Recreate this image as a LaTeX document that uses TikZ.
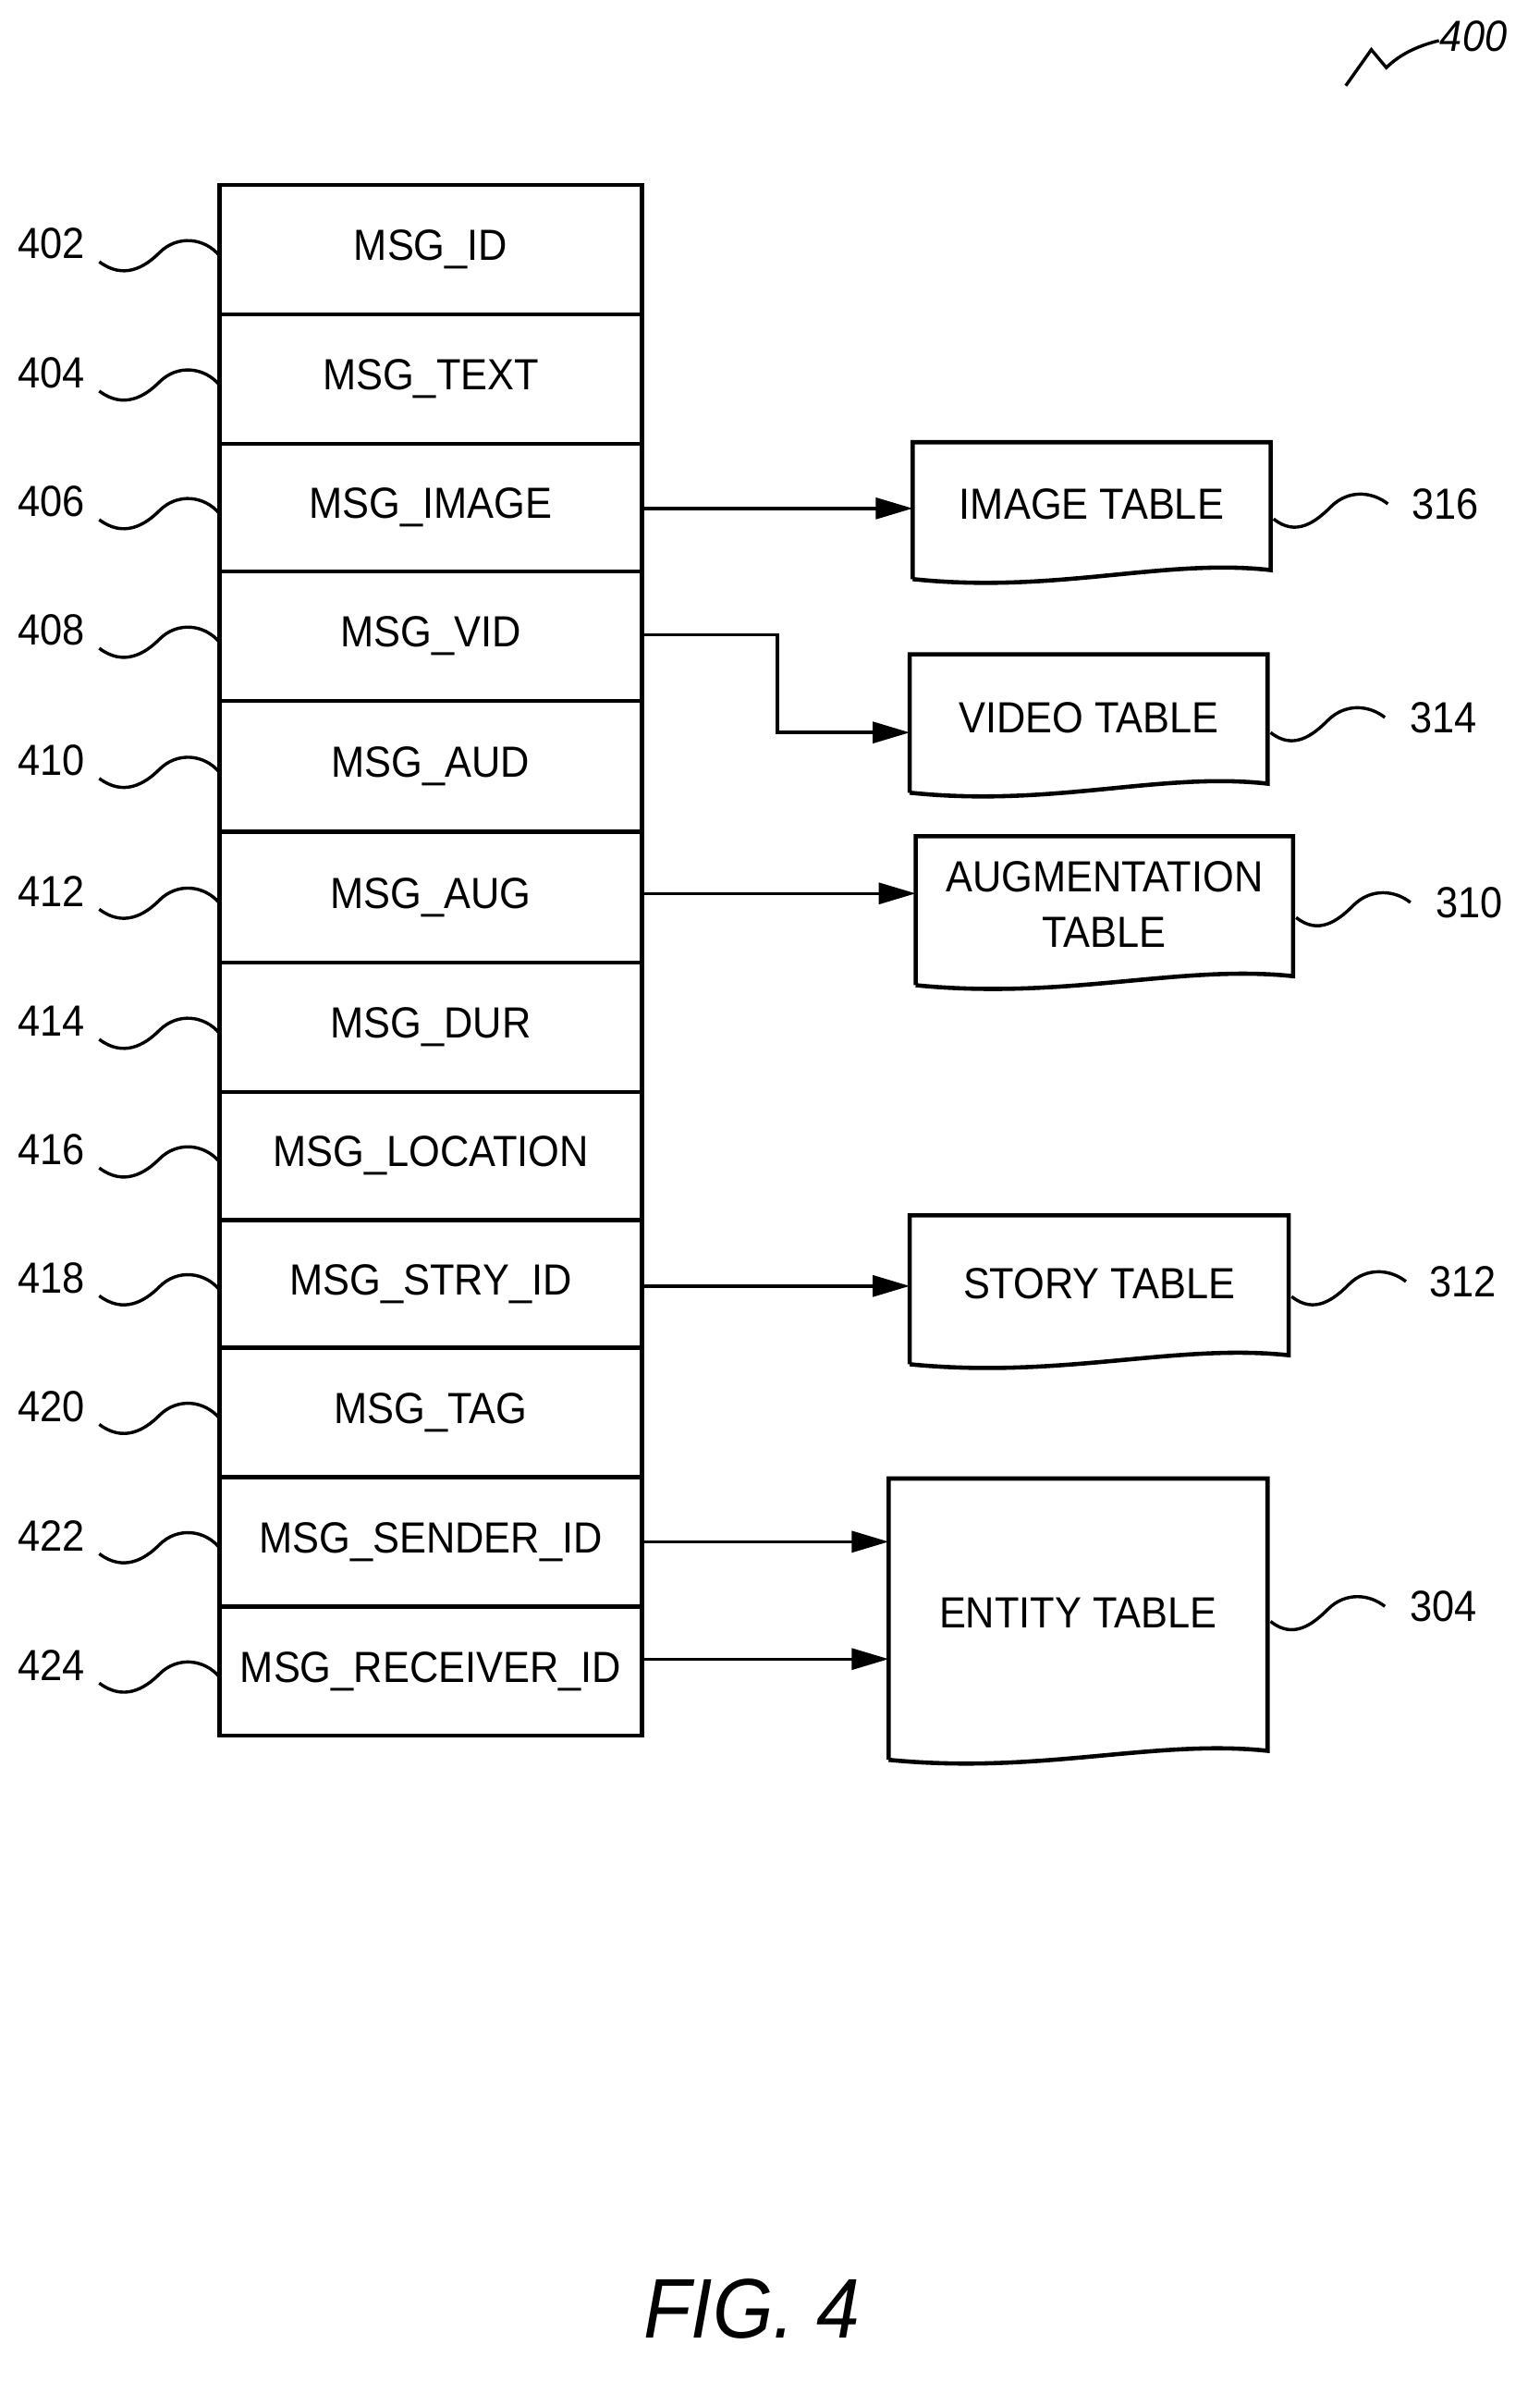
\documentclass[tikz,border=0pt]{standalone}
\usepackage{fontspec}
\setmainfont{Liberation Sans}[FakeStretch=0.92]
\usetikzlibrary{arrows.meta}
\begin{document}
\begin{tikzpicture}[x=0.02cm,y=-0.02cm,
  line width=1.6pt,
  txt/.style={font=\fontsize{16.5}{19}\selectfont,align=center,inner sep=0},
  lbl/.style={font=\fontsize{16.5}{19}\selectfont,inner sep=0},
  arr/.style={-{Triangle[length=14pt,width=8pt]},line width=1.2pt}]
\useasboundingbox (0,0) rectangle (1024,1583);
% row boxes
\def\rows{123/209/MSG\_ID/402/r1,209/295/MSG\_TEXT/404/r2,295/380/MSG\_IMAGE/406/r3,380/466/MSG\_VID/408/r4,466/553/MSG\_AUD/410/r5,553/640/MSG\_AUG/412/r6,640/726/MSG\_DUR/414/r7,726/811/MSG\_LOCATION/416/r8,811/896/MSG\_STRY\_ID/418/r9,896/982/MSG\_TAG/420/r10,982/1068/MSG\_SENDER\_ID/422/r11,1068/1154/MSG\_RECEIVER\_ID/424/r12}
\foreach \a/\b/\t/\n/\nm in \rows {
  \draw (146,\a) rectangle (427,\b);
  \node[txt] (\nm) at (286.5,{(\a+\b)/2}) {\t};
  \node[lbl] (l\nm) at (34,{(\a+\b)/2-4}) {\n};
  \pgfmathsetmacro\c{(\a+\b)/2}
  \draw[line width=1.2pt] (66,\c+8) .. controls (82,\c+20) and (96,\c+12) .. (106,\c+2) .. controls (118,\c-10) and (136,\c-8) .. (146,\c+4);
}
% document shapes
\newcommand\docshape[6]{% x1 y1 x2 y2 name text
  \draw (#1,#4) -- (#1,#2) -- (#3,#2) -- (#3,#4-6) .. controls ({#3-0.3*(#3-#1)},#4-14) and ({#1+0.4*(#3-#1)},#4+10) .. (#1,#4);
  \node[txt] (#5) at ({(#1+#3)/2},{(#2+#4)/2-4}) {#6};
}
\docshape{607}{294}{845}{385}{img}{IMAGE TABLE}
\docshape{605}{435}{843}{527}{vid}{VIDEO TABLE}
\docshape{609}{556}{860}{655}{aug}{AUGMENTATION\\[2pt]TABLE}
\docshape{605}{808}{857}{907}{sty}{STORY TABLE}
\docshape{591}{983}{843}{1170}{ent}{ENTITY TABLE}
% right labels
\newcommand\rlab[4]{% x y text squiggle start x
  \draw[line width=1.2pt] (#4,#2+10) .. controls (#4+15,#2+22) and (#4+28,#2+12) .. (#4+38,#2+2) .. controls (#4+50,#2-10) and (#4+66,#2-8) .. (#4+76,#2);
  \node[lbl] at (#1,#2) {#3};
}
\rlab{961}{335}{316}{847}
\rlab{960}{477}{314}{845}
\rlab{977}{600}{310}{862}
\rlab{973}{852}{312}{859}
\rlab{960}{1068}{304}{845}
% arrows
\coordinate (a1) at (427,338); \coordinate (b1) at (607,338);
\draw[arr] (a1) -- (b1);
\coordinate (a2) at (427,422); \coordinate (b2) at (605,487);
\draw[arr] (a2) -- (517,422) -- (517,487) -- (b2);
\coordinate (a3) at (427,594); \coordinate (b3) at (609,594);
\draw[arr] (a3) -- (b3);
\coordinate (a4) at (427,855); \coordinate (b4) at (605,855);
\draw[arr] (a4) -- (b4);
\coordinate (a5) at (427,1025); \coordinate (b5) at (591,1025);
\draw[arr] (a5) -- (b5);
\coordinate (a6) at (427,1103); \coordinate (b6) at (591,1103);
\draw[arr] (a6) -- (b6);
% 400
\node[lbl,font=\fontsize{16.5}{19}\selectfont\itshape] (n400) at (980,24) {400};
\draw[line width=1.2pt] (895,57) -- (912,33) -- (922,45) .. controls (932,35) and (945,30) .. (957,27);
\node[font=\fontsize{32}{38}\selectfont\itshape,inner sep=0] (fig) at (500,1535) {FIG. 4};
\end{tikzpicture}
\end{document}
